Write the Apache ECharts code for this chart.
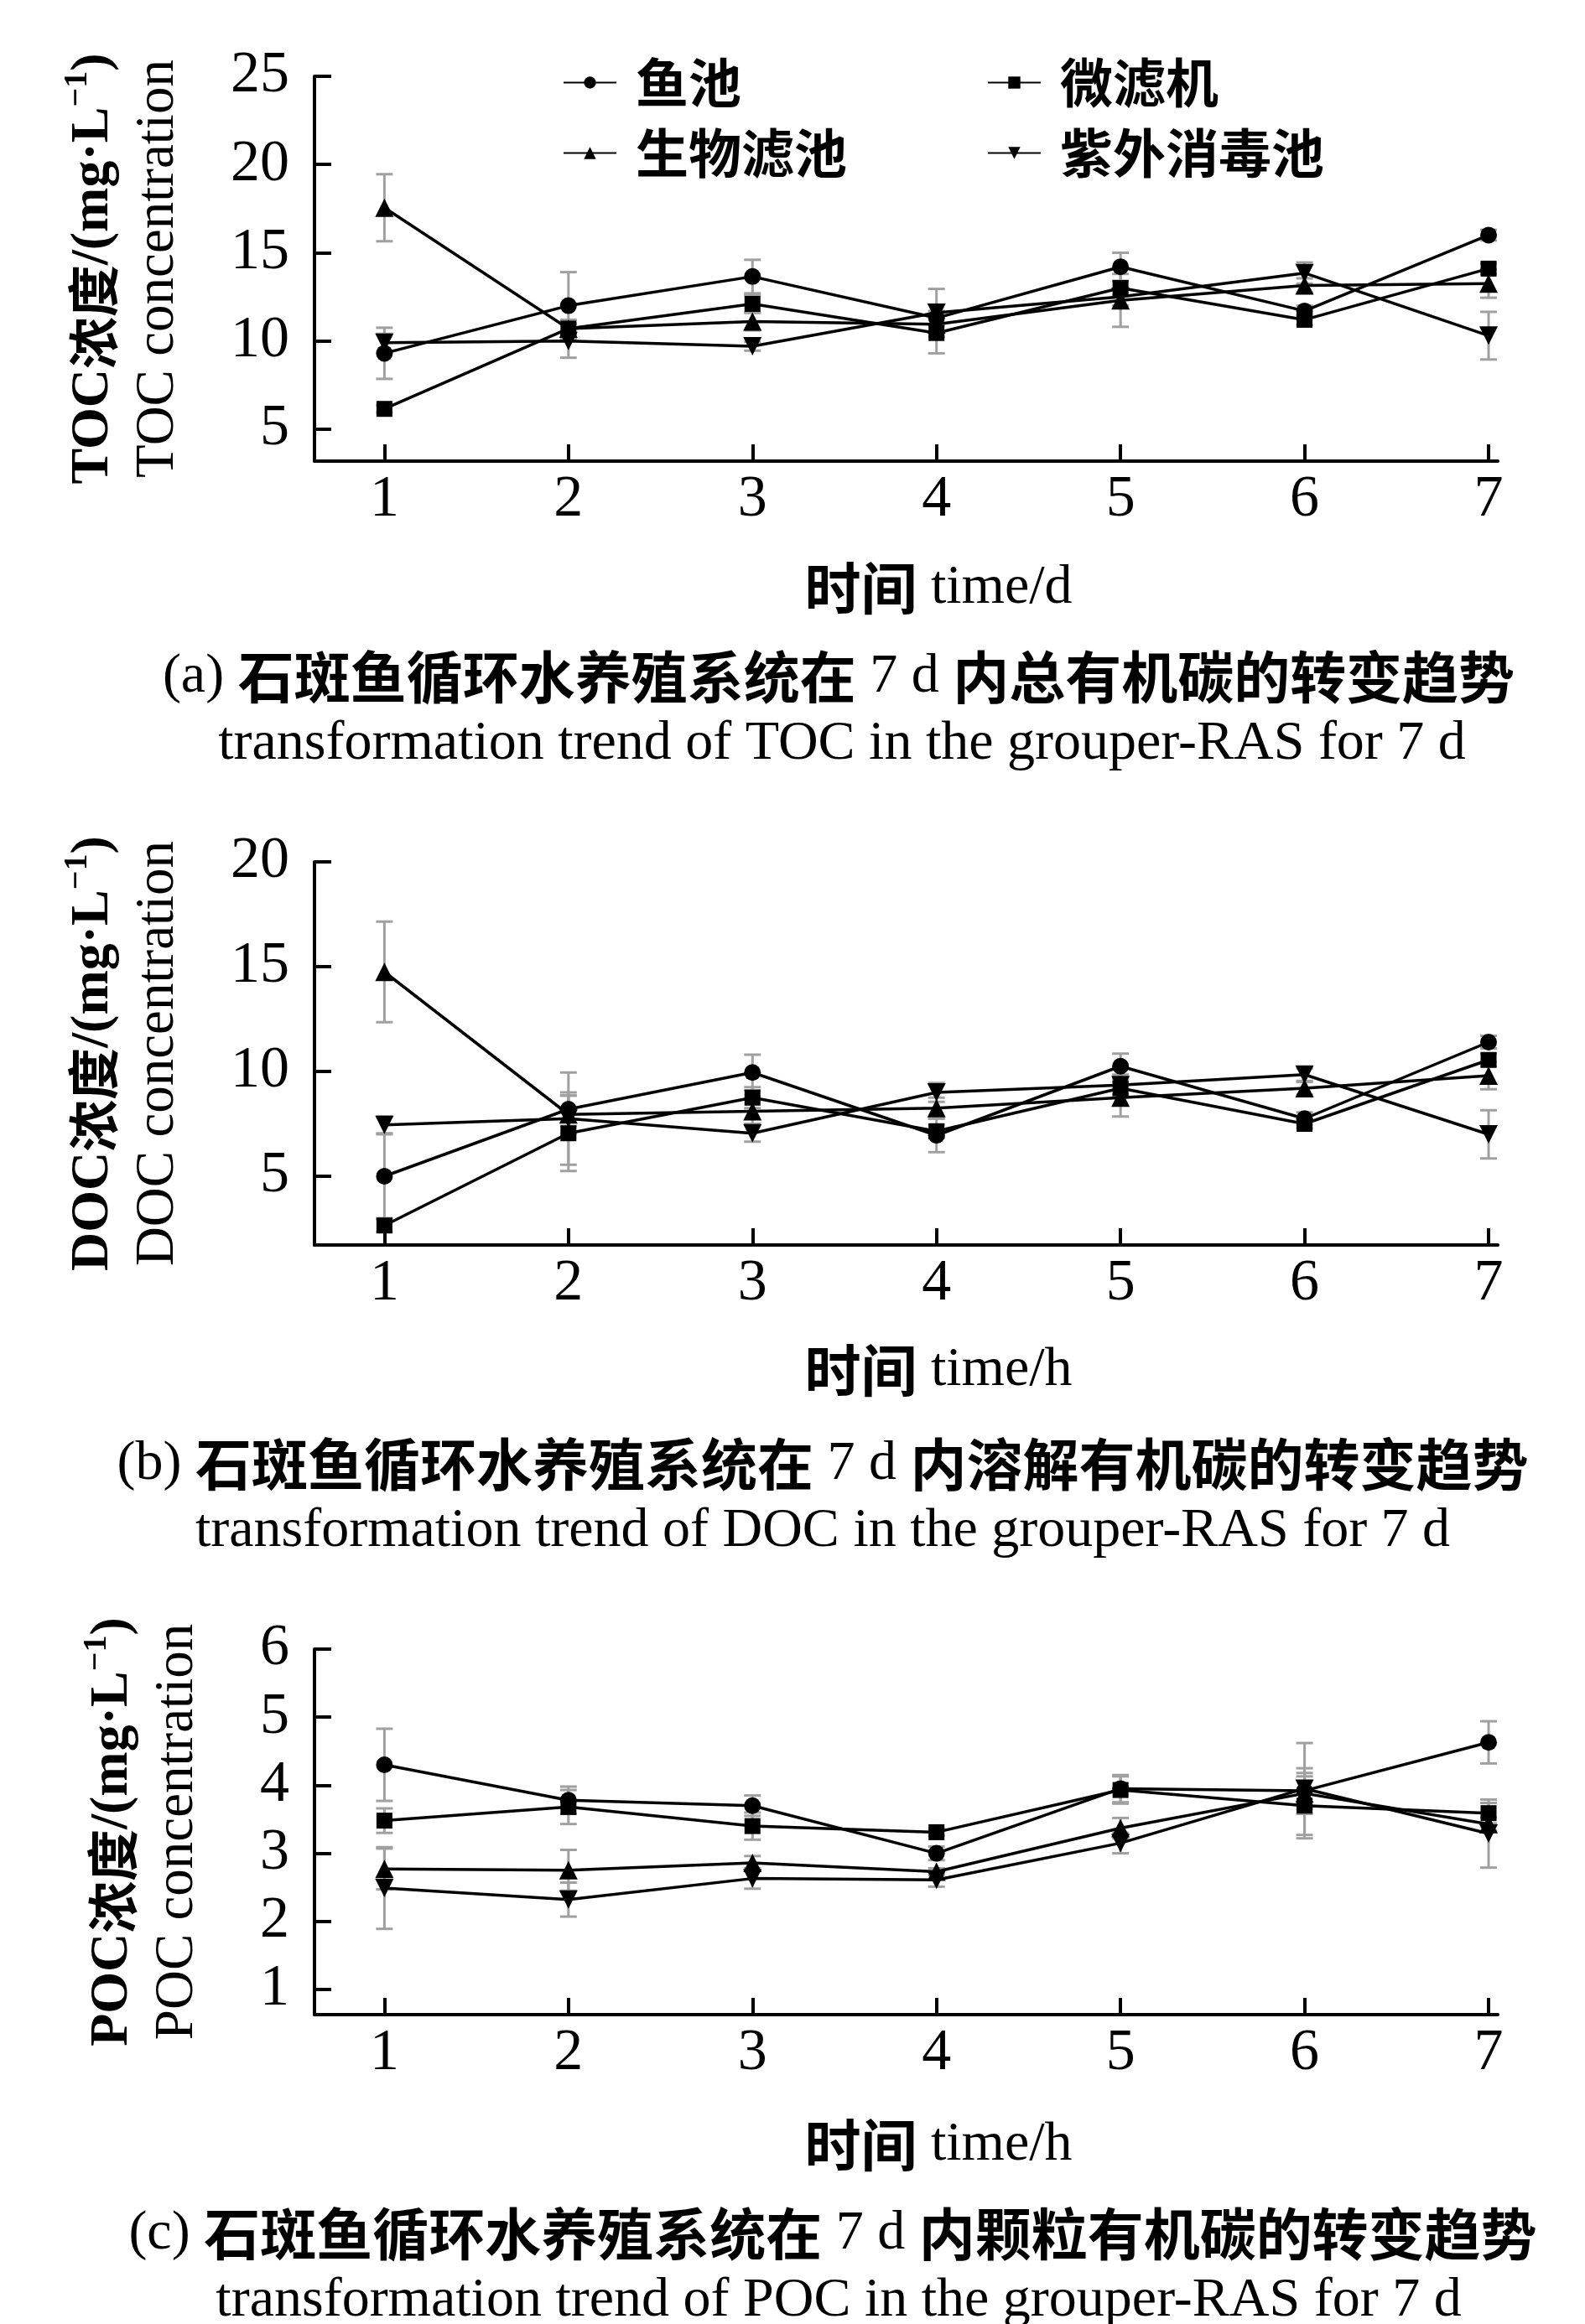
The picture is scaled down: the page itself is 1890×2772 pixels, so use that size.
<!DOCTYPE html>
<html>
<head>
<meta charset="utf-8">
<script src="https://cdn.jsdelivr.net/npm/echarts@6/dist/echarts.min.js"></script>
<style>
  html, body { margin: 0; padding: 0; background: #fff; }
  #chart { width: 1890px; height: 2772px; }
</style>
</head>
<body>
<div id="chart"></div>
<script>
// days on the x axis
const days = [1, 2, 3, 4, 5, 6, 7];
const names = ["鱼池", "微滤机", "生物滤池", "紫外消毒池"];

// TOC (mg/L)
const tocFish = [9.3, 12.0, 13.65, 11.3, 14.2, 11.7, 16.0];
const tocFilter = [6.15, 10.7, 12.1, 10.45, 13.0, 11.2, 14.1];
const tocBio = [17.55, 10.7, 11.1, 10.95, 12.3, 13.15, 13.25];
const tocUv = [9.9, 10.0, 9.7, 11.6, 12.5, 13.85, 10.3];
const tocFishErr = [1.45, 1.9, 0.95, 0.4, 0.8, 0.3, 0.3];
const tocFilterErr = [0.2, 0.3, 0.5, 1.15, 0.4, 0.3, 0.3];
const tocBioErr = [1.9, 0.5, 0.5, 0.5, 1.5, 0.4, 0.8];
const tocUvErr = [0.5, 0.95, 0.25, 1.35, 0.5, 0.6, 1.35];

// DOC (mg/L)
const docFish = [5.0, 8.2, 9.95, 6.95, 10.25, 7.75, 11.4];
const docFilter = [2.65, 7.05, 8.75, 7.15, 9.2, 7.5, 10.55];
const docBio = [14.75, 7.95, 8.1, 8.25, 8.75, 9.2, 9.8];
const docUv = [7.45, 7.75, 7.05, 9.0, 9.35, 9.85, 7.0];
const docFishErr = [2.0, 0.8, 0.85, 0.8, 0.6, 0.3, 0.3];
const docFilterErr = [0.3, 1.8, 0.5, 0.3, 0.3, 0.2, 0.3];
const docBioErr = [2.4, 0.9, 0.6, 0.5, 0.9, 0.3, 0.65];
const docUvErr = [0.4, 2.2, 0.4, 0.45, 0.5, 0.3, 1.15];

// POC (mg/L)
const pocFish = [4.3, 3.78, 3.7, 3.0, 3.95, 3.92, 4.63];
const pocFilter = [3.48, 3.68, 3.4, 3.31, 3.93, 3.7, 3.59];
const pocBio = [2.77, 2.75, 2.86, 2.73, 3.37, 3.88, 3.43];
const pocUv = [2.49, 2.32, 2.63, 2.61, 3.15, 3.95, 3.29];
const pocFishErr = [0.53, 0.2, 0.15, 0.1, 0.2, 0.7, 0.31];
const pocFilterErr = [0.18, 0.25, 0.2, 0.05, 0.2, 0.43, 0.15];
const pocBioErr = [0.3, 0.3, 0.1, 0.05, 0.15, 0.3, 0.1];
const pocUvErr = [0.6, 0.25, 0.15, 0.1, 0.15, 0.3, 0.5];

const tocTicks = [5, 10, 15, 20, 25];
const docTicks = [5, 10, 15, 20];
const pocTicks = [1, 2, 3, 4, 5, 6];

const SERIF = "Liberation Serif";
const CJK = "Noto Sans CJK SC";

var chart = echarts.init(document.getElementById("chart"));

const symbols = [
  { symbol: "circle", size: 20, rotate: 0 },
  { symbol: "rect", size: 19, rotate: 0 },
  { symbol: "triangle", size: 22, rotate: 0 },
  { symbol: "triangle", size: 22, rotate: 180 },
];

function errRender(params, api) {
  var x = api.value(0);
  var top = api.coord([x, api.value(2)]);
  var bot = api.coord([x, api.value(1)]);
  var w = 10;
  var st = { stroke: "#a0a0a0", lineWidth: 3 };
  return {
    type: "group",
    children: [
      { type: "line", shape: { x1: top[0], y1: top[1], x2: bot[0], y2: bot[1] }, style: st },
      { type: "line", shape: { x1: top[0] - w, y1: top[1], x2: top[0] + w, y2: top[1] }, style: st },
      { type: "line", shape: { x1: bot[0] - w, y1: bot[1], x2: bot[0] + w, y2: bot[1] }, style: st },
    ],
  };
}

var series = [];
function addPanel(idx, groups) {
  groups.forEach(function (g, k) {
    series.push({
      name: "err" + idx + k,
      type: "custom",
      xAxisIndex: idx,
      yAxisIndex: idx,
      renderItem: errRender,
      encode: { x: 0, y: [1, 2] },
      data: days.map(function (d, i) { return [d, g[0][i] - g[1][i], g[0][i] + g[1][i]]; }),
      z: 1,
      silent: true,
    });
  });
  groups.forEach(function (g, k) {
    series.push({
      name: names[k],
      type: "line",
      xAxisIndex: idx,
      yAxisIndex: idx,
      data: days.map(function (d, i) { return [d, g[0][i]]; }),
      symbol: symbols[k].symbol,
      symbolSize: symbols[k].size,
      symbolRotate: symbols[k].rotate,
      showAllSymbol: true,
      lineStyle: { color: "#000", width: 3.5 },
      itemStyle: { color: "#000" },
      z: 3,
    });
  });
}
addPanel(0, [[tocFish, tocFishErr], [tocFilter, tocFilterErr], [tocBio, tocBioErr], [tocUv, tocUvErr]]);
addPanel(1, [[docFish, docFishErr], [docFilter, docFilterErr], [docBio, docBioErr], [docUv, docUvErr]]);
addPanel(2, [[pocFish, pocFishErr], [pocFilter, pocFilterErr], [pocBio, pocBioErr], [pocUv, pocUvErr]]);

const panels = [
  { top: 91, height: 459, min: 3.19, max: 25, ticks: tocTicks, label: "TOC", gap: 148 },
  { top: 1028, height: 457, min: 1.72, max: 20, ticks: docTicks, label: "DOC", gap: 148 },
  { top: 1967, height: 436, min: 0.63, max: 6, ticks: pocTicks, label: "POC", gap: 125 },
];

var grids = [], xAxes = [], yAxes = [];
panels.forEach(function (p, i) {
  grids.push({ left: 375, width: 1411, top: p.top, height: p.height, containLabel: false });
  xAxes.push({
    type: "value", gridIndex: i, min: 0.62, max: 7.05,
    axisLine: { show: true, onZero: false, lineStyle: { color: "#000", width: 4 } },
    axisTick: { show: true, inside: true, length: 20, customValues: days, lineStyle: { color: "#000", width: 4 } },
    axisLabel: { customValues: days, fontFamily: SERIF, fontSize: 70, color: "#000", margin: 12 },
    splitLine: { show: false },
  });
  yAxes.push({
    type: "value", gridIndex: i, min: p.min, max: p.max,
    axisLine: { show: true, onZero: false, lineStyle: { color: "#000", width: 4 } },
    axisTick: { show: true, inside: true, length: 20, customValues: p.ticks, lineStyle: { color: "#000", width: 4 } },
    axisLabel: { customValues: p.ticks, fontFamily: SERIF, fontSize: 70, color: "#000", margin: 30 },
    splitLine: { show: false },
    name: "{b|" + p.label + "}{h|浓度}{b|/(mg·L}{s|−1}{b|)}\n{n|" + p.label + " concentration}",
    nameLocation: "middle",
    nameRotate: 90,
    nameGap: p.gap,
    nameTextStyle: {
      color: "#000",
      lineHeight: 77,
      rich: {
        b: { fontFamily: SERIF, fontWeight: "bold", fontSize: 64, lineHeight: 77, color: "#000" },
        h: { fontFamily: CJK, fontWeight: "bold", fontSize: 62, lineHeight: 77, color: "#000" },
        s: { fontFamily: SERIF, fontWeight: "bold", fontSize: 40, lineHeight: 77, color: "#000", verticalAlign: "top" },
        n: { fontFamily: SERIF, fontWeight: "normal", fontSize: 65, lineHeight: 77, color: "#000" },
      },
    },
  });
});

const capRich = {
  c: { fontFamily: SERIF, fontWeight: "normal", fontSize: 66, lineHeight: 76, color: "#000" },
  h: { fontFamily: CJK, fontWeight: "bold", fontSize: 67, lineHeight: 76, color: "#000" },
};
function caption(text, x, y) {
  return { text: text, left: x, top: y - 38, textAlign: "center", padding: 0,
    textStyle: { rich: capRich, fontWeight: "normal", fontSize: 66, lineHeight: 76 } };
}
var titles = [
  caption("{h|时间}{c| time/d}", 1119, 702),
  caption("{c|(a) }{h|石斑鱼循环水养殖系统在}{c| 7 d }{h|内总有机碳的转变趋势}", 1000, 808),
  caption("{c|transformation trend of TOC in the grouper-RAS for 7 d}", 1004, 888),
  caption("{h|时间}{c| time/h}", 1119, 1635),
  caption("{c|(b) }{h|石斑鱼循环水养殖系统在}{c| 7 d }{h|内溶解有机碳的转变趋势}", 981, 1747),
  caption("{c|transformation trend of DOC in the grouper-RAS for 7 d}", 981, 1827),
  caption("{h|时间}{c| time/h}", 1119, 2559),
  caption("{c|(c) }{h|石斑鱼循环水养殖系统在}{c| 7 d }{h|内颗粒有机碳的转变趋势}", 993, 2665),
  caption("{c|transformation trend of POC in the grouper-RAS for 7 d}", 1000, 2745),
];

function legendItem(name, x, y) {
  return {
    data: [name], left: x, top: y - 36, padding: 0, itemWidth: 63, itemHeight: 18,
    selectedMode: false,
    textStyle: { fontFamily: CJK, fontWeight: "bold", fontSize: 63, color: "#000", padding: [0, 0, 0, 18] },
  };
}

var option = {
  backgroundColor: "#fff",
  animation: false,
  title: titles,
  legend: [
    legendItem("鱼池", 671, 103),
    legendItem("微滤机", 1177, 103),
    legendItem("生物滤池", 671, 187),
    legendItem("紫外消毒池", 1177, 187),
  ],
  grid: grids,
  xAxis: xAxes,
  yAxis: yAxes,
  series: series,
};
chart.setOption(option);
</script>
</body>
</html>
